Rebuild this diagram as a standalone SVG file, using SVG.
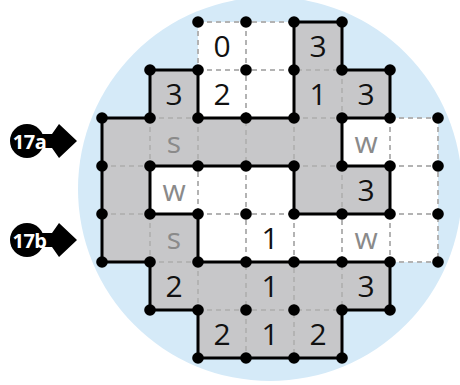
<svg xmlns="http://www.w3.org/2000/svg" xmlns:xlink="http://www.w3.org/1999/xlink" width="460" height="385" viewBox="0 0 460 385">
  <style>
    .bg { fill: #d5eaf8; }
    .shape { fill: #c7c7c9; stroke: none; }
    .white { fill: #ffffff; stroke: none; }
    .dash { fill: none; stroke: #b3b3b3; stroke-width: 2; stroke-dasharray: 5 4; }
    .edge { fill: none; stroke: #000000; stroke-width: 3; stroke-linejoin: miter; }
    .dot { fill: #000000; }
    .num { font-family: "Open Sans", "Noto Sans", "Liberation Sans", sans-serif; font-size: 30px; fill: #111111; text-anchor: middle; }
    .hint { font-family: "Open Sans", "Noto Sans", "Liberation Sans", sans-serif; font-size: 30px; fill: #8a8a8a; text-anchor: middle; }
    .tag { font-family: "Open Sans", "Noto Sans", "Liberation Sans", sans-serif; font-size: 20px; font-weight: bold; fill: #ffffff; text-anchor: middle; letter-spacing: -0.5px; }
  </style>
  <defs>
    <circle id="d" r="5.8" class="dot"/>
    <path id="outline" d="M294,22 H342 V70 H390 V118 H342 V166 H390 V214 H294 V166 H150 V214 H198 V262 H390 V310 H342 V358 H198 V310 H150 V262 H102 V118 H150 V70 H198 V118 H294 Z"/>
    <path id="pointer" d="M-2,-7 H13 L20,-17 L38,0 L20,17 L13,7 H-2 Z"/>
  </defs>

  <circle id="backdrop" class="bg" cx="270" cy="189" r="192"/>

  <g id="cells">
    <rect class="white" x="198" y="22" width="96" height="96"/>
    <rect class="white" x="342" y="118" width="96" height="48"/>
    <rect class="white" x="150" y="166" width="144" height="48"/>
    <rect class="white" x="390" y="166" width="48" height="48"/>
    <rect class="white" x="198" y="214" width="240" height="48"/>
    <use xlink:href="#outline" href="#outline" class="shape"/>
  </g>

  <g id="connectors">
    <path class="dash" d="M198,22 H294 M198,70 H342 M150,118 H198 M294,118 H342 M390,118 H438 M102,166 H150 M294,166 H342 M390,166 H438 M102,214 H150 M198,214 H294 M390,214 H438 M150,262 H198 M390,262 H438 M198,310 H342 M198,22 V70 M198,118 V214 M198,262 V310 M150,118 V166 M150,214 V262 M246,22 V358 M294,118 V166 M294,214 V358 M342,70 V118 M342,166 V310 M390,118 V166 M390,214 V262 M438,118 V262"/>
    <use xlink:href="#outline" href="#outline" class="edge"/>
  </g>

  <g id="dots">
    <use href="#d" x="198" y="22"/><use href="#d" x="246" y="22"/><use href="#d" x="294" y="22"/><use href="#d" x="342" y="22"/>
    <use href="#d" x="150" y="70"/><use href="#d" x="198" y="70"/><use href="#d" x="246" y="70"/><use href="#d" x="294" y="70"/><use href="#d" x="342" y="70"/><use href="#d" x="390" y="70"/>
    <use href="#d" x="102" y="118"/><use href="#d" x="150" y="118"/><use href="#d" x="198" y="118"/><use href="#d" x="246" y="118"/><use href="#d" x="294" y="118"/><use href="#d" x="342" y="118"/><use href="#d" x="390" y="118"/><use href="#d" x="438" y="118"/>
    <use href="#d" x="102" y="166"/><use href="#d" x="150" y="166"/><use href="#d" x="198" y="166"/><use href="#d" x="246" y="166"/><use href="#d" x="294" y="166"/><use href="#d" x="342" y="166"/><use href="#d" x="390" y="166"/><use href="#d" x="438" y="166"/>
    <use href="#d" x="102" y="214"/><use href="#d" x="150" y="214"/><use href="#d" x="198" y="214"/><use href="#d" x="246" y="214"/><use href="#d" x="294" y="214"/><use href="#d" x="342" y="214"/><use href="#d" x="390" y="214"/><use href="#d" x="438" y="214"/>
    <use href="#d" x="102" y="262"/><use href="#d" x="150" y="262"/><use href="#d" x="198" y="262"/><use href="#d" x="246" y="262"/><use href="#d" x="294" y="262"/><use href="#d" x="342" y="262"/><use href="#d" x="390" y="262"/><use href="#d" x="438" y="262"/>
    <use href="#d" x="150" y="310"/><use href="#d" x="198" y="310"/><use href="#d" x="246" y="310"/><use href="#d" x="294" y="310"/><use href="#d" x="342" y="310"/><use href="#d" x="390" y="310"/>
    <use href="#d" x="198" y="358"/><use href="#d" x="246" y="358"/><use href="#d" x="294" y="358"/><use href="#d" x="342" y="358"/>
  </g>

  <g id="clues">
    <text class="num" x="222" y="57">0</text>
    <text class="num" x="318" y="57">3</text>
    <text class="num" x="174" y="105">3</text>
    <text class="num" x="222" y="105">2</text>
    <text class="num" x="318" y="105">1</text>
    <text class="num" x="366" y="105">3</text>
    <text class="hint" x="174" y="153">s</text>
    <text class="hint" x="366" y="153">w</text>
    <text class="hint" x="174" y="201">w</text>
    <text class="num" x="366" y="201">3</text>
    <text class="hint" x="174" y="249">s</text>
    <text class="num" x="270" y="249">1</text>
    <text class="hint" x="366" y="249">w</text>
    <text class="num" x="174" y="297">2</text>
    <text class="num" x="270" y="297">1</text>
    <text class="num" x="366" y="297">3</text>
    <text class="num" x="222" y="345">2</text>
    <text class="num" x="270" y="345">1</text>
    <text class="num" x="318" y="345">2</text>
  </g>

  <g id="label-17a">
    <use href="#pointer" x="39" y="141"/>
    <circle cx="27" cy="141" r="17" fill="#000"/>
    <text class="tag" x="29.5" y="148.5">17a</text>
  </g>
  <g id="label-17b">
    <use href="#pointer" x="39" y="240"/>
    <circle cx="27" cy="240" r="17" fill="#000"/>
    <text class="tag" x="29.5" y="247.5">17b</text>
  </g>
</svg>
